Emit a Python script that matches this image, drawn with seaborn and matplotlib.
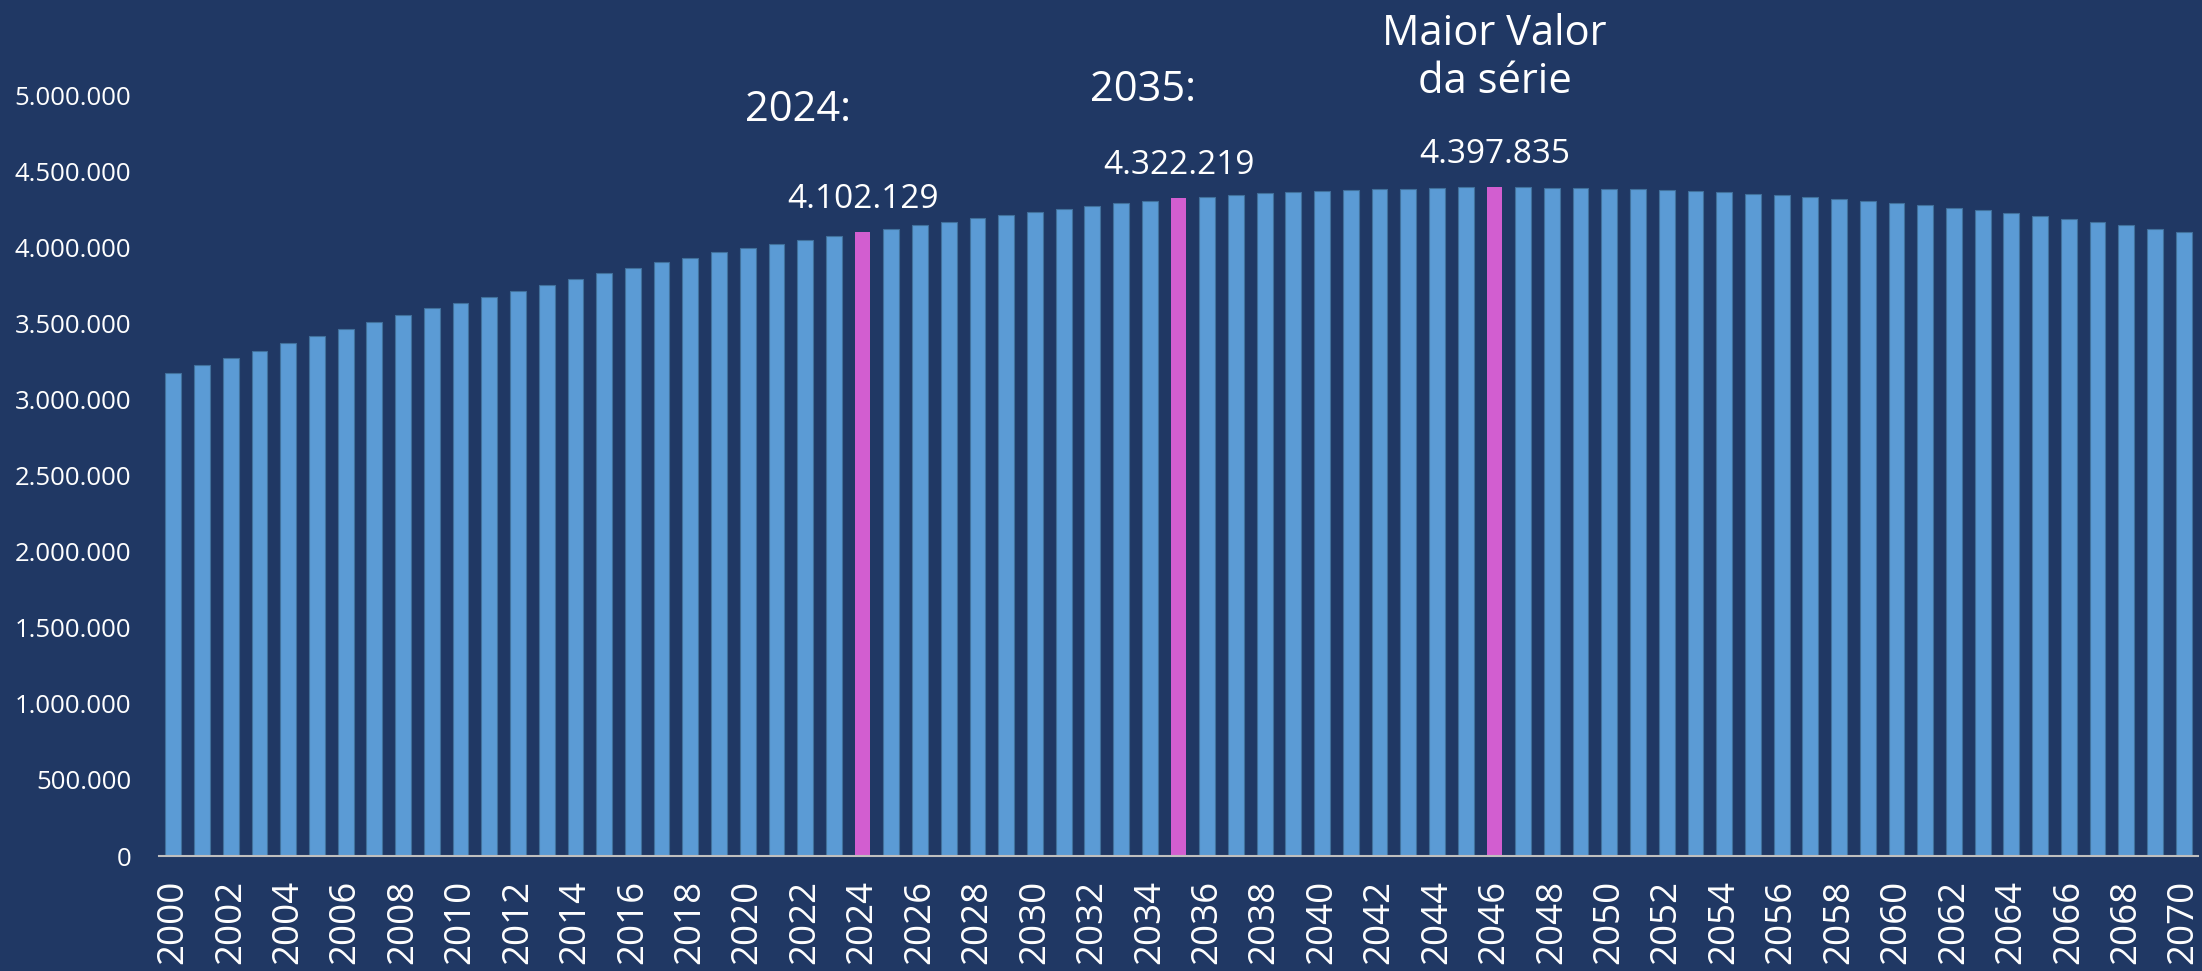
import numpy as np
import pandas as pd
import matplotlib
matplotlib.use('Agg')
import matplotlib.pyplot as plt
import seaborn as sns
from matplotlib.ticker import FuncFormatter

# Dados
anos = list(range(2000, 2071))
valores = [
    3175000, 3226000, 3272000, 3320000, 3368000, 3416000, 3462000, 3508000, 3552000, 3598000,
    3635000, 3673000, 3710000, 3749000, 3791000, 3828000, 3865000, 3903000, 3931000, 3966000,
    3997000, 4023000, 4045000, 4073000, 4102129, 4121000, 4146000, 4167000, 4190000, 4211000,
    4231000, 4251000, 4271000, 4288000, 4301000, 4322219, 4330000, 4343000, 4354000, 4362000,
    4369000, 4376000, 4382000, 4386000, 4390000, 4393000, 4397835, 4393000, 4391000, 4389000,
    4384000, 4380000, 4376000, 4367000, 4360000, 4352000, 4343000, 4330000, 4316000, 4303000,
    4290000, 4275000, 4257000, 4242000, 4224000, 4205000, 4185000, 4165000, 4144000, 4119000,
    4098000,
]
destaques = [2024, 2035, 2046]
yticks = list(range(0, 5000001, 500000))

fundo = '#203864'
azul = '#5B9BD5'
rosa = '#D25ED0'

df = pd.DataFrame({
    'ano': [str(a) for a in anos],
    'valor': valores,
    'destaque': ['sim' if a in destaques else 'nao' for a in anos],
})

sns.set_theme(style='white')
plt.rcParams['font.family'] = ['Open Sans', 'DejaVu Sans']

fig = plt.figure(figsize=(22.02, 9.71), dpi=100, facecolor=fundo)
ax = fig.add_axes([0.0722, 0.1184, 0.926, 0.7837])
ax.set_facecolor(fundo)

sns.barplot(data=df, x='ano', y='valor', hue='destaque',
            palette={'nao': azul, 'sim': rosa}, dodge=False, width=0.55,
            saturation=1, legend=False, ax=ax)

# contorno fino nas barras azuis
for p in ax.patches:
    if np.allclose(p.get_facecolor()[:3], matplotlib.colors.to_rgb(azul), atol=0.01):
        p.set_edgecolor('#41719C')
        p.set_linewidth(0.8)
    else:
        p.set_linewidth(0)

ax.set_xlim(-0.5, len(anos) - 0.5)
ax.set_ylim(0, 5000000)
ax.set_yticks(yticks)
ax.yaxis.set_major_formatter(FuncFormatter(lambda v, _: f'{v:,.0f}'.replace(',', '.')))
ax.set_xticks(range(0, len(anos), 2))
ax.set_xticklabels([str(a) for a in anos[::2]], rotation=90)
ax.tick_params(axis='x', length=0, pad=17, labelsize=26.5, colors='white')
ax.tick_params(axis='y', length=0, pad=20, labelsize=18.5, colors='white')
ax.set_xlabel('')
ax.set_ylabel('')
ax.grid(False)

for s in ['top', 'right', 'left']:
    ax.spines[s].set_visible(False)
ax.spines['bottom'].set_color('#BFBFBF')
ax.spines['bottom'].set_linewidth(1.5)

# rótulos dos destaques
for a in destaques:
    i = anos.index(a)
    v = valores[i]
    ax.text(i, v + 212000, f'{v:,.0f}'.replace(',', '.'), ha='center', va='center',
            fontsize=24, color='white', clip_on=False)

i24 = anos.index(2024)
i35 = anos.index(2035)
i46 = anos.index(2046)
ax.text(i24 - 2.25, 4900000, '2024:', ha='center', va='center', fontsize=30,
        color='white', clip_on=False)
ax.text(i35 - 1.25, 5033000, '2035:', ha='center', va='center', fontsize=30,
        color='white', clip_on=False)
ax.text(i46, 5243000, 'Maior Valor\nda série', ha='center', va='center', fontsize=30,
        color='white', linespacing=1.2, clip_on=False)

fig.savefig('out.png', dpi=100, facecolor=fundo)
